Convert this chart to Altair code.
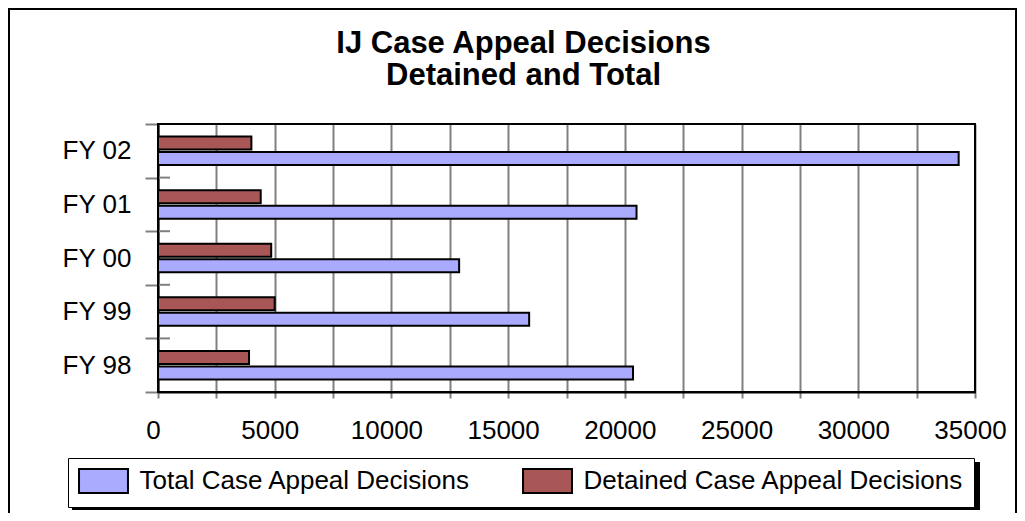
import altair as alt
import pandas as pd

# ---- data ----
fiscal_years = ["FY 02", "FY 01", "FY 00", "FY 99", "FY 98"]
total_decisions = [34300, 20500, 12900, 15900, 20350]
detained_decisions = [4000, 4400, 4850, 5000, 3900]
series_names = ["Total Case Appeal Decisions", "Detained Case Appeal Decisions"]
x_tick_values = [0, 2500, 5000, 7500, 10000, 12500, 15000, 17500, 20000,
                 22500, 25000, 27500, 30000, 32500, 35000]
title_lines = ["IJ Case Appeal Decisions", "Detained and Total"]

TOT, DET = series_names
rows = []
for fy, t, d in zip(fiscal_years, total_decisions, detained_decisions):
    rows.append({"fy": fy, "series": TOT, "value": t})
    rows.append({"fy": fy, "series": DET, "value": d})
df = pd.DataFrame(rows)

FONT = "Liberation Sans"
BLUE = "#AAAAFF"
RED = "#A95656"
GRID = "#808080"
FS = 26

W, H = 817, 268
LEG_X, LEG_Y, LEG_W, LEG_H = -90, 334, 908, 48

y_enc = alt.Y(
    "fy:N", sort=fiscal_years,
    scale=alt.Scale(paddingInner=0, paddingOuter=0),
    axis=alt.Axis(title=None, tickBand="extent", tickSize=13, tickColor=GRID,
                  tickWidth=2, domainColor="black", domainWidth=2,
                  labelFontSize=FS, labelPadding=14, labelColor="black",
                  labelFont=FONT, grid=False),
)

bars = alt.Chart(df).mark_bar(stroke="black", strokeWidth=2, opacity=1).encode(
    x=alt.X(
        "value:Q",
        scale=alt.Scale(domain=[0, 35000], nice=False, zero=True),
        axis=alt.Axis(
            title=None, values=x_tick_values,
            labelExpr="datum.value % 5000 == 0 ? format(datum.value, 'd') : ''",
            grid=True, gridColor=GRID, gridWidth=2, gridOpacity=1,
            tickColor=GRID, tickWidth=2, tickSize=6,
            domainColor="black", domainWidth=2,
            labelFontSize=FS, labelColor="black", labelFont=FONT,
            labelPadding=19, labelOffset=-5, labelFlush=False, labelOverlap=False,
            labelBound=False,
        ),
    ),
    y=y_enc,
    yOffset=alt.YOffset(
        "series:N", sort=[DET, TOT],
        scale=alt.Scale(paddingInner=0.16, paddingOuter=0.81),
    ),
    color=alt.Color(
        "series:N",
        scale=alt.Scale(domain=[TOT, DET], range=[BLUE, RED]),
        legend=alt.Legend(
            title=None, orient="none", legendX=LEG_X, legendY=LEG_Y,
            direction="horizontal", columns=2,
            symbolType="M-2.04,-1L2.04,-1L2.04,1L-2.04,1Z", symbolSize=576,
            symbolOffset=12.5,
            symbolStrokeColor="black", symbolStrokeWidth=2, symbolOpacity=1,
            labelFontSize=FS, labelFont=FONT, labelColor="black",
            labelOffset=23, columnPadding=48, padding=10,
            fillColor="white", strokeColor="black", labelLimit=500,
        ),
    ),
)

inner_ticks = alt.Chart(pd.DataFrame({"fy": fiscal_years})).mark_rule(
    color=GRID, strokeWidth=2
).encode(
    y=alt.Y("fy:N", sort=fiscal_years, bandPosition=0),
    x=alt.value(0), x2=alt.value(12),
)

one = pd.DataFrame({"k": [0]})
frame = alt.Chart(one).mark_rect(filled=False, stroke="black", strokeWidth=2).encode(
    x=alt.value(-149), x2=alt.value(858), y=alt.value(-115), y2=alt.value(420),
)
plot_border = alt.Chart(one).mark_rect(filled=False, stroke="black", strokeWidth=2).encode(
    x=alt.value(0), x2=alt.value(W), y=alt.value(0), y2=alt.value(H),
)
shadow = alt.Chart(one).mark_rect(color="black").encode(
    x=alt.value(LEG_X + 4), x2=alt.value(LEG_X + LEG_W + 4),
    y=alt.value(LEG_Y + 4), y2=alt.value(LEG_Y + LEG_H + 4),
)

chart = alt.layer(frame, shadow, bars, inner_ticks, plot_border).properties(
    width=W, height=H,
    title=alt.Title(
        title_lines, font=FONT, fontSize=31, fontWeight="bold", color="black",
        anchor="middle", frame="group", offset=0, dx=-43, dy=84, lineHeight=32,
    ),
    autosize=alt.AutoSizeParams(type="none"),
    padding={"left": 150, "top": 116, "right": 42, "bottom": 121},
).configure_view(
    stroke="black", strokeWidth=2
).configure_legend(
    strokeColor="black", strokeWidth=2
).configure(background="white")

chart.save("out.html", embed_options={"renderer": "svg", "actions": False})
